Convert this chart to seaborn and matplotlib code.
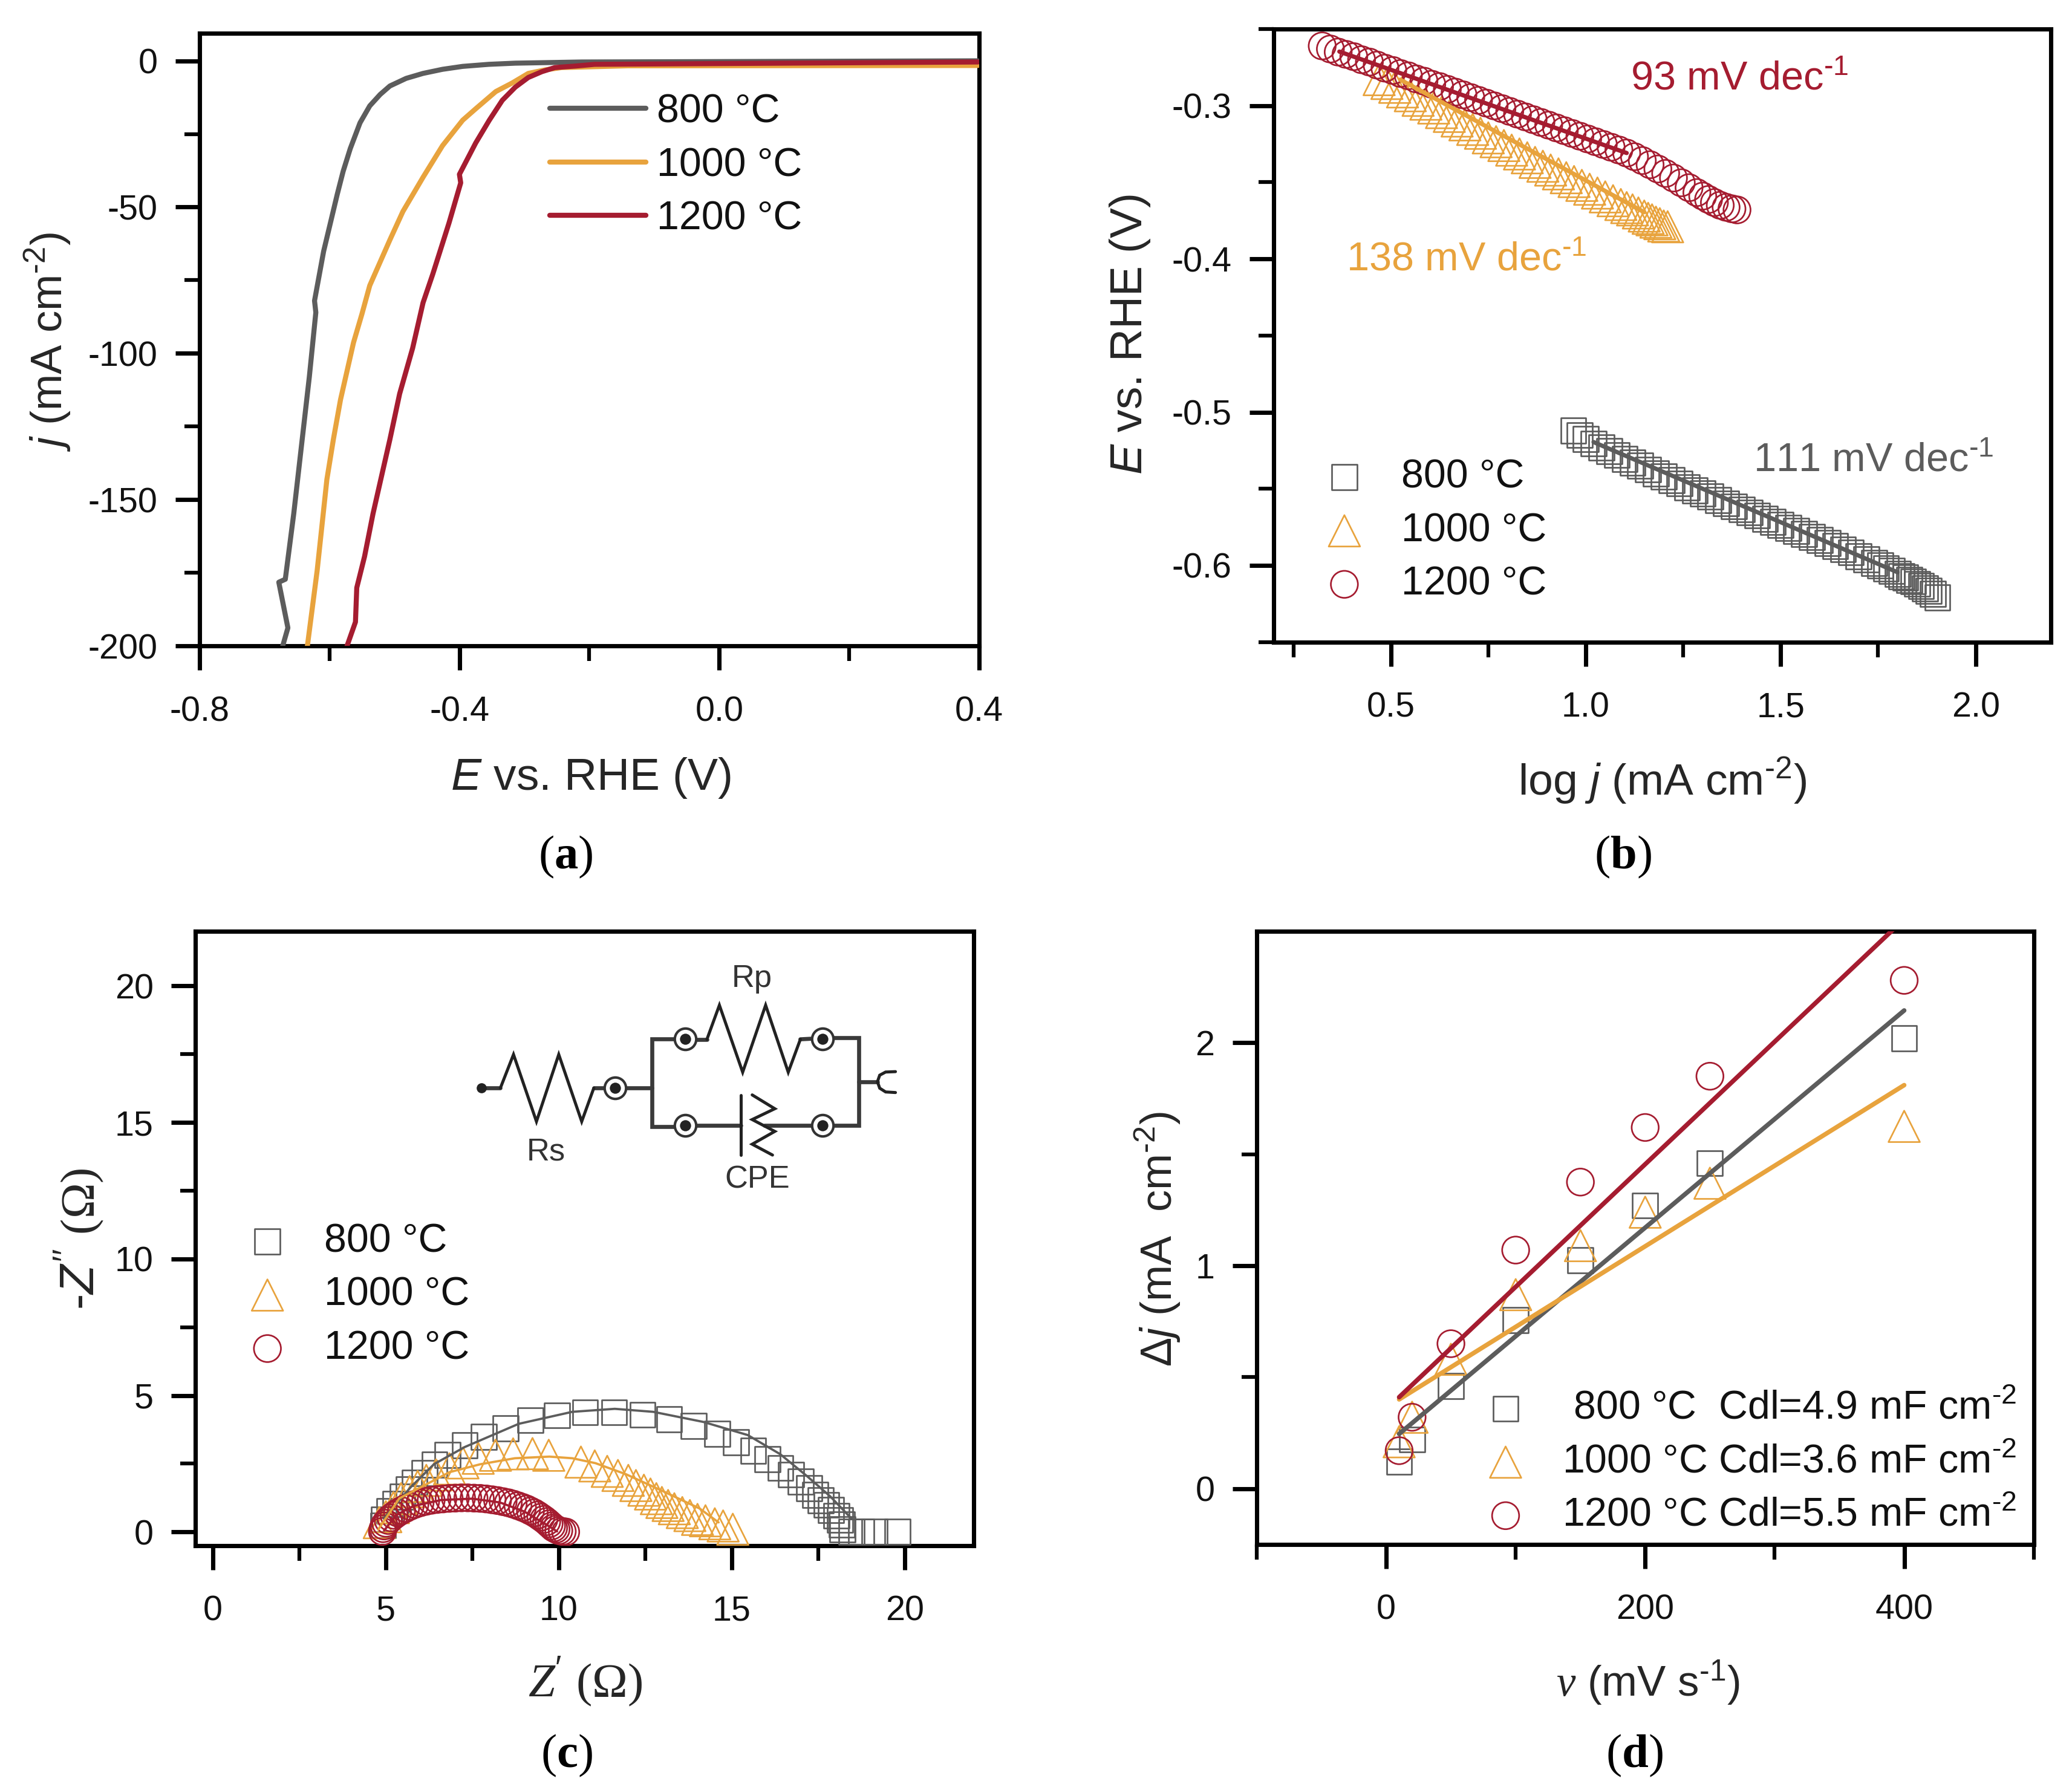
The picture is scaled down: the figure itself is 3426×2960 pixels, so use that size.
import numpy as np
import matplotlib
matplotlib.use("Agg")
import matplotlib.pyplot as plt
import seaborn as sns

# ---------- panel (a) : polarisation curves
a800_E = [-0.672,-0.664,-0.678,-0.668,-0.655,-0.644,-0.631,-0.621,-0.623,-0.609,-0.588,-0.579,-0.568,-0.553,-0.538,-0.522,-0.507,-0.482,-0.456,-0.426,-0.395,-0.355,-0.314,-0.212,0.398]
a800_j = [-200,-193.8,-178.2,-177.2,-154.8,-133.3,-108,-86,-82,-65.1,-45.6,-37.8,-30,-21.2,-15.4,-11.5,-8.6,-6,-4.3,-2.9,-1.9,-1.2,-0.8,-0.4,0]
a1000_E = [-0.634,-0.619,-0.604,-0.594,-0.583,-0.563,-0.550,-0.538,-0.507,-0.487,-0.456,-0.426,-0.395,-0.375,-0.344,-0.319,-0.294,-0.268,-0.243,-0.141,0.398]
a1000_j = [-200,-174.3,-143.1,-129.4,-115.8,-96.3,-86.5,-76.8,-61.2,-51.5,-39.8,-29,-20.3,-16.4,-10.5,-7.6,-4.3,-3.1,-2.3,-1.7,-1.6]
a1200_E = [-0.573,-0.560,-0.558,-0.546,-0.533,-0.519,-0.507,-0.492,-0.472,-0.456,-0.441,-0.416,-0.398,-0.400,-0.375,-0.354,-0.334,-0.314,-0.294,-0.273,-0.253,-0.222,-0.192,0.398]
a1200_j = [-200,-191.8,-180.1,-169.4,-154.8,-141.1,-129.4,-113.8,-98.2,-82.7,-72.9,-55.4,-41.7,-38.8,-28.1,-20.3,-13.5,-9,-5.7,-3.7,-2.3,-1.8,-1.2,-0.4]

# ---------- panel (b) : Tafel plots
b800_x = [.968,.985,1.00,1.02,1.04,1.06,1.08,1.10,1.12,1.14,1.16,1.18,1.20,1.22,1.24,1.26,1.28,1.30,1.32,1.34,1.36,1.38,1.40,1.42,1.44,1.46,1.48,1.50,1.52,1.54,1.56,1.58,1.60,1.62,1.64,1.66,1.68,1.70,1.72,1.74,1.755,1.77,1.785,1.80,1.81,1.82,1.83,1.84,1.85,1.86,1.87,1.88,1.89,1.902]
b800_y = [-.5120,-.5150,-.5175,-.5205,-.5230,-.5255,-.5280,-.5305,-.5330,-.5350,-.5375,-.5400,-.5420,-.5445,-.5465,-.5490,-.5510,-.5530,-.5550,-.5575,-.5595,-.5615,-.5635,-.5655,-.5675,-.5695,-.5715,-.5735,-.5755,-.5775,-.5795,-.5815,-.5835,-.5855,-.5875,-.5895,-.5915,-.5940,-.5960,-.5985,-.6000,-.6020,-.6035,-.6055,-.6070,-.6080,-.6095,-.6105,-.6120,-.6135,-.6150,-.6165,-.6185,-.6208]
b1000_x = [.47,.49,.51,.53,.55,.57,.59,.61,.63,.65,.67,.69,.71,.73,.75,.77,.79,.81,.83,.85,.87,.89,.91,.93,.95,.97,.99,1.01,1.03,1.05,1.07,1.09,1.105,1.12,1.135,1.15,1.16,1.17,1.18,1.19,1.20,1.21]
b1000_y = [-.2830,-.2855,-.2880,-.2910,-.2935,-.2965,-.2990,-.3015,-.3045,-.3070,-.3100,-.3125,-.3155,-.3180,-.3210,-.3235,-.3260,-.3290,-.3315,-.3340,-.3370,-.3395,-.3420,-.3445,-.3470,-.3495,-.3520,-.3545,-.3570,-.3595,-.3620,-.3645,-.3665,-.3680,-.3700,-.3720,-.3735,-.3745,-.3760,-.3770,-.3785,-.3790]
b1200_x = [.324,.345,.365,.385,.405,.425,.445,.465,.485,.505,.525,.545,.565,.585,.605,.625,.645,.665,.685,.705,.725,.745,.765,.785,.805,.825,.845,.865,.885,.905,.925,.945,.965,.985,1.005,1.025,1.045,1.065,1.085,1.105,1.125,1.145,1.165,1.185,1.205,1.225,1.245,1.265,1.285,1.30,1.315,1.33,1.345,1.36,1.375,1.388]
b1200_y = [-.2610,-.2630,-.2650,-.2665,-.2680,-.2700,-.2715,-.2735,-.2755,-.2770,-.2790,-.2805,-.2825,-.2840,-.2860,-.2875,-.2893,-.2911,-.2929,-.2947,-.2965,-.2983,-.3001,-.3019,-.3037,-.3055,-.3073,-.3091,-.3109,-.3127,-.3145,-.3163,-.3181,-.3199,-.3217,-.3235,-.3253,-.3271,-.3289,-.3309,-.3333,-.3358,-.3385,-.3413,-.3442,-.3472,-.3503,-.3535,-.3567,-.3590,-.3612,-.3632,-.3650,-.3663,-.3673,-.3680]
bfit800_x, bfit800_y = [1.02,1.80], [-.5195,-.6045]
bfit1000_x, bfit1000_y = [.524,1.15], [-.283,-.3695]
bfit1200_x, bfit1200_y = [.368,1.105], [-.2647,-.3309]

# ---------- panel (c) : Nyquist plots
c800_x = [4.92,4.94,5.11,5.28,5.48,5.66,5.83,6.12,6.41,6.78,7.28,7.83,8.46,9.18,9.95,10.76,11.60,12.42,13.19,13.90,14.58,15.12,15.62,16.03,16.41,16.72,16.99,17.24,17.41,17.57,17.74,17.87,18.03,18.13,18.18,18.20,18.46,18.74,19.13,19.79]
c800_y = [.24,.46,.77,1.03,1.29,1.55,1.81,2.15,2.47,2.82,3.18,3.48,3.80,4.09,4.27,4.38,4.38,4.29,4.12,3.88,3.59,3.29,2.98,2.67,2.34,2.10,1.84,1.60,1.36,1.16,.99,.81,.59,.44,.27,.09,.01,.01,.01,.01]
c800fit_x = [4.94,5.72,6.39,7.28,8.84,10.39,11.62,12.73,14.18,15.46,16.40,17.18,17.85,18.46]
c800fit_y = [.49,1.64,2.48,3.11,3.96,4.40,4.51,4.40,4.03,3.55,2.85,2.04,1.30,.49]
c1000_x = [4.81,5.00,5.22,5.44,5.69,5.92,6.17,6.45,6.84,7.23,7.67,8.17,8.68,9.24,9.71,10.64,11.04,11.40,11.71,12.01,12.23,12.46,12.65,12.82,12.98,13.16,13.34,13.57,13.79,14.01,14.24,14.51,14.75,15.03]
c1000_y = [.34,.56,.89,1.22,1.48,1.67,1.89,2.09,2.31,2.53,2.70,2.81,2.86,2.87,2.81,2.56,2.42,2.22,2.07,1.89,1.70,1.53,1.39,1.22,1.08,.97,.85,.71,.60,.46,.41,.30,.22,.10]
c1000fit_x = [4.78,5.39,6.39,6.84,7.73,8.73,9.73,10.39,11.06,11.95,12.95,14.07,14.62]
c1000fit_y = [.09,1.23,1.89,2.19,2.48,2.70,2.76,2.70,2.52,2.11,1.53,.86,.35]
c1200_x = [4.90,4.92,4.95,5.00,5.07,5.15,5.24,5.34,5.45,5.57,5.70,5.84,5.99,6.15,6.31,6.48,6.65,6.83,7.01,7.19,7.37,7.55,7.73,7.90,8.07,8.23,8.39,8.54,8.68,8.82,8.95,9.07,9.18,9.29,9.39,9.48,9.57,9.65,9.72,9.79,9.85,9.92,10.0,10.1,10.2]
c1200_y = [.02,.12,.22,.32,.42,.52,.61,.70,.78,.86,.94,1.01,1.07,1.12,1.16,1.19,1.21,1.23,1.24,1.25,1.25,1.24,1.23,1.21,1.18,1.15,1.11,1.07,1.02,.96,.90,.84,.77,.70,.62,.54,.46,.38,.30,.22,.15,.10,.05,.02,.0]
c1200fit_x = [4.95,5.3,5.8,6.6,7.5,8.3,9.0,9.6,9.95]
c1200fit_y = [.05,.62,.95,1.17,1.22,1.08,.75,.30,.02]

# ---------- panel (d) : double-layer capacitance
d_rate = [10,20,50,100,150,200,250,400]
d800 = [.12,.22,.46,.755,1.025,1.27,1.46,2.02]
d1000 = [.21,.32,.58,.87,1.09,1.24,1.37,1.625]
d1200 = [.17,.32,.65,1.07,1.375,1.62,1.85,2.28]
dfit_x = [10,400]
dfit800 = [.245,2.145]
dfit1000 = [.40,1.81]
dfit1200 = [.41,2.555]

temps = ["800 °C","1000 °C","1200 °C"]
GRAY, ORANGE, RED = "#5c5c5c", "#e8a33d", "#a51c30"
HY = "\u2010"   # hyphen used in the superscripts

# ---------- equivalent circuit schematic (inset coordinates)
wire_paths = [
    [(177,715),(235,715)],[(520,715),(552,715)],[(620,713),(697,713)],
    [(765,465),(697,465),(697,910),(765,910)],
    [(830,468),(865,468)],[(1150,468),(1185,465)],
    [(1250,460),(1328,460),(1328,905),(1250,905)],
    [(1183,905),(1040,905)],[(832,905),(968,905)],[(1328,683),(1385,683)],
]
zig_paths = [
    [(235,715),(275,545),(345,885),(413,545),(483,885),(520,715)],
    [(865,468),(903,295),(974,635),(1044,295),(1113,635),(1150,468)],
    [(1003,750),(1072,820),(1003,875),(1072,935),(1003,1000),(1065,1055)],
    [(968,750),(968,1055)],
    [(1440,632),(1410,634),(1392,650),(1385,683),(1392,716),(1410,735),(1440,738)],
]
node_pts = [(585,713),(798,465),(1217,465),(798,905),(1217,905)]

# ---------- style
sns.set_theme(style="ticks")
plt.rcParams.update({
    "font.family": ["Liberation Sans","DejaVu Sans"],
    "axes.unicode_minus": False,
    "mathtext.fontset": "custom",
    "mathtext.rm": "Liberation Sans",
    "mathtext.it": "Liberation Sans:italic",
    "mathtext.bf": "Liberation Serif:bold",
    "mathtext.sf": "Liberation Serif",
    "mathtext.cal": "Liberation Serif:italic",
    "axes.linewidth": 1.7,
    "axes.edgecolor": "black",
    "text.color": "#111111",
})
W, H = 3426, 2960
SX, SY = W/1568, H/1355
fig = plt.figure(figsize=(W/300, H/300), dpi=300, facecolor="white")

def P(x, y):
    return (x*SX/W, 1 - y*SY/H)

def make_ax(x0, y0, x1, y1):
    l, b = P(x0, y1)
    r, t = P(x1, y0)
    return fig.add_axes([l, b, r-l, t-b])

def finish(ax, xlim, ylim, xmaj, xmin, ymaj, ymin, xl, xlpos, xfs, yl, ylpos, yfs, xfmt, yfmt):
    ax.set_xlim(*xlim); ax.set_ylim(*ylim)
    ax.set_xticks(xmaj); ax.set_xticks(xmin, minor=True)
    ax.set_yticks(ymaj); ax.set_yticks(ymin, minor=True)
    ax.set_xticklabels([xfmt % v for v in xmaj])
    ax.set_yticklabels([yfmt % v for v in ymaj])
    ax.tick_params(which="major", length=9.7, width=1.7, labelsize=13.8, color="black", labelcolor="#111111")
    ax.tick_params(which="minor", length=6, width=1.5, color="black")
    ax.tick_params(axis="x", which="major", pad=10)
    ax.tick_params(axis="y", which="major", pad=7)
    ax.set_xlabel(xl, fontsize=xfs, ha="center", va="center")
    ax.set_ylabel(yl, fontsize=yfs, ha="center", va="center", rotation=90)
    ax.xaxis.set_label_coords(*P(*xlpos), transform=fig.transFigure)
    ax.yaxis.set_label_coords(*P(*ylpos), transform=fig.transFigure)

def hollow(ax, x, y, marker, size, color, label=None):
    sns.scatterplot(x=x, y=y, marker=marker, s=size, color=color, ax=ax, label=label,
                    edgecolor=color, linewidth=0.65, legend=False, zorder=3)
    coll = ax.collections[-1]
    coll.set_facecolor("none")
    coll.set_edgecolor(color)

def line(ax, x, y, color, lw, label=None):
    sns.lineplot(x=x, y=y, color=color, lw=lw, ax=ax, sort=False, estimator=None,
                 label=label, legend=False, zorder=4)

def mk_legend(ax, anchor):
    h, l = ax.get_legend_handles_labels()
    ax.legend(h, l, loc="center left", bbox_to_anchor=P(*anchor), bbox_transform=fig.transFigure, fontsize=15.9,
              frameon=False, borderpad=0, borderaxespad=0, handlelength=1.41, handletextpad=0.71,
              labelspacing=0.40, scatterpoints=1)

SQ, TR, CI = 100, 155, 115

# (a)
axa = make_ax(151, 25, 741, 489)
line(axa, a800_E, a800_j, GRAY, 2.0, temps[0])
line(axa, a1000_E, a1000_j, ORANGE, 2.0, temps[1])
line(axa, a1200_E, a1200_j, RED, 2.0, temps[2])
finish(axa, (-0.8,0.4), (-200,9.5), [-0.8,-0.4,0,0.4], [-0.6,-0.2,0.2], [-200,-150,-100,-50,0], [-175,-125,-75,-25],
       r"$\mathit{E}$ vs. RHE (V)", (447,589), 18, r"$\mathit{j}$ (mA cm$^{%s2}$)" % HY, (36,259), 17.4, "%.1f", "%d")
h, l = axa.get_legend_handles_labels()
axa.legend(h, l, loc="center left", bbox_to_anchor=P(416,125.5), bbox_transform=fig.transFigure, fontsize=15.9,
           frameon=False, borderpad=0, borderaxespad=0, handlelength=2.4, handletextpad=0.28, labelspacing=0.40)

# (b)
axb = make_ax(964, 22, 1552, 486)
hollow(axb, b800_x, b800_y, "s", SQ, GRAY, temps[0])
hollow(axb, b1000_x, b1000_y, "^", TR, ORANGE, temps[1])
hollow(axb, b1200_x, b1200_y, "o", CI, RED, temps[2])
line(axb, bfit800_x, bfit800_y, GRAY, 1.7)
line(axb, bfit1000_x, bfit1000_y, ORANGE, 1.7)
line(axb, bfit1200_x, bfit1200_y, RED, 1.7)
finish(axb, (0.2,2.193), (-0.65,-0.25), [0.5,1.0,1.5,2.0], [0.25,0.75,1.25,1.75], [-0.6,-0.5,-0.4,-0.3], [-0.65,-0.55,-0.45,-0.35,-0.25],
       r"log $\mathit{j}$ (mA cm$^{%s2}$)" % HY, (1258,591), 17.6, r"$\mathit{E}$ vs. RHE (V)", (855,253), 18, "%.1f", "%.1f")
mk_legend(axb, (996,402))
for txt, pos, col in [(r"93 mV dec$^{%s1}$" % HY, (1234,60), RED), (r"138 mV dec$^{%s1}$" % HY, (1019,197), ORANGE), (r"111 mV dec$^{%s1}$" % HY, (1327,349), GRAY)]:
    fig.text(*P(*pos), txt, color=col, fontsize=16, ha="left", va="center")

# (c)
axc = make_ax(148, 705, 737, 1170)
hollow(axc, c800_x, c800_y, "s", SQ, GRAY, temps[0])
hollow(axc, c1000_x, c1000_y, "^", TR, ORANGE, temps[1])
hollow(axc, c1200_x, c1200_y, "o", CI, RED, temps[2])
line(axc, c800fit_x, c800fit_y, GRAY, 0.9)
line(axc, c1000fit_x, c1000fit_y, ORANGE, 0.9)
line(axc, c1200fit_x, c1200fit_y, RED, 0.9)
finish(axc, (-0.5,22), (-0.5,22), [0,5,10,15,20], [2.5,7.5,12.5,17.5], [0,5,10,15,20], [2.5,7.5,12.5,17.5],
       r"$\mathcal{Z}'\ \mathsf{(\Omega)}$", (443,1273), 19, r"-$\mathit{Z}''\ \mathsf{(\Omega)}$", (60,938), 19, "%d", "%d")
mk_legend(axc, (181,980.5))

# circuit inset
ins = fig.add_axes([700/W, 1-(1566+450)/H, 850/W, 450/H])
ins.set_xlim(0,1568); ins.set_ylim(1380,0); ins.axis("off"); ins.patch.set_alpha(0)
for p in wire_paths:
    xs, ys = zip(*p); ins.plot(xs, ys, color="#3a3a3a", lw=1.6, solid_joinstyle="miter")
for p in zig_paths:
    xs, ys = zip(*p); ins.plot(xs, ys, color="#222222", lw=1.2, solid_joinstyle="miter")
nx, ny = zip(*node_pts)
ins.plot(nx, ny, ls="none", marker="o", ms=8.5, mfc="white", mec="#333333", mew=1.0)
ins.plot(nx, ny, ls="none", marker="o", ms=4.4, mfc="#222222", mec="#222222", mew=0)
ins.plot([177],[713], ls="none", marker="o", ms=4.0, mfc="#222222", mec="#222222", mew=0)
for t, pos in [("Rp",(569,741)),("Rs",(413,872)),("CPE",(573,893))]:
    fig.text(*P(*pos), t, fontsize=12.6, color="#333333", ha="center", va="center")

# (d)
axd = make_ax(951, 705, 1539, 1169)
hollow(axd, d_rate, d800, "s", SQ, GRAY, " 800 °C  Cdl=4.9 mF cm$^{%s2}$" % HY)
hollow(axd, d_rate, d1000, "^", TR, ORANGE, "1000 °C Cdl=3.6 mF cm$^{%s2}$" % HY)
hollow(axd, d_rate, d1200, "o", CI, RED, "1200 °C Cdl=5.5 mF cm$^{%s2}$" % HY)
line(axd, dfit_x, dfit800, GRAY, 1.8)
line(axd, dfit_x, dfit1000, ORANGE, 1.8)
line(axd, dfit_x, dfit1200, RED, 1.8)
finish(axd, (-100,500), (-0.25,2.5), [0,200,400], [-100,100,300,500], [0,1,2], [0.5,1.5],
       r"$\mathcal{\nu}$ (mV s$^{%s1}$)" % HY, (1247,1274), 17, r"Δ$\mathit{j}$ (mA  cm$^{%s2}$)" % HY, (876,938), 17.3, "%d", "%d")
mk_legend(axd, (1118,1107))

# panel letters
for t, pos in [("a",(428,649)),("b",(1228,649)),("c",(429,1329)),("d",(1237,1329))]:
    fig.text(*P(*pos), "($\\mathbf{%s}$)" % t, fontsize=18.9, family="Liberation Serif", color="black", ha="center", va="center")

fig.savefig("out.png", dpi=300, facecolor="white")
